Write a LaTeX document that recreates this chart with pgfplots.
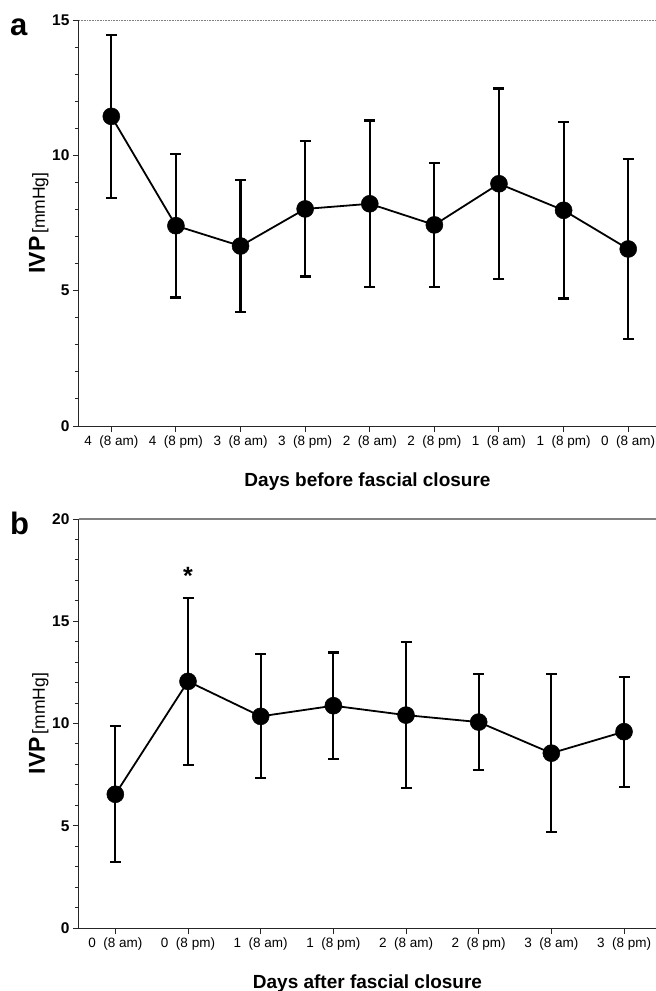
\documentclass[border=0pt]{standalone}
\usepackage{pgfplots}
\pgfplotsset{compat=1.18}
\usepackage{pgfplotstable}
\usepackage{fontspec}
\setmainfont{Liberation Sans}

% IVP before closure: mean, SD
\pgfplotstableread{
x y e
0 11.44 3.02
1 7.40 2.65
2 6.65 2.43
3 8.02 2.50
4 8.21 3.08
5 7.43 2.30
6 8.95 3.52
7 7.97 3.26
8 6.54 3.33
}\before

% IVP after closure
\pgfplotstableread{
x y e
0 6.54 3.33
1 12.06 4.07
2 10.35 3.03
3 10.87 2.60
4 10.41 3.58
5 10.07 2.34
6 8.55 3.87
7 9.60 2.69
}\after

\pgfplotsset{
  ivp/.style={
    scale only axis, width=577pt,
    axis x line*=bottom, axis y line*=left,
    axis line style={black!85, line width=1pt},
    tick align=outside,
    tick style={black!85, line width=1pt},
    major tick length=6pt, minor tick length=3.5pt,
    xmin=-0.5, ymin=0,
    minor y tick num=4,
    yticklabel style={font=\fontsize{15.5}{15.5}\selectfont\bfseries},
    xticklabel style={font=\fontsize{13.5}{13.5}\selectfont},
    ylabel={{\fontsize{23}{23}\selectfont\bfseries IVP} {\fontsize{17.5}{17.5}\selectfont [mmHg]}},
    every axis y label/.style={at={(axis description cs:-0.059,0.5)}, rotate=90, anchor=base},
    every axis x label/.style={at={(axis description cs:0.5,0)}, anchor=base, yshift=-60pt,
      font=\fontsize{19}{19}\selectfont\bfseries},
    clip=false,
  },
  meanline/.style={
    black, line width=1.8pt, mark=*, mark size=8.5pt, mark options={fill=black, line width=0.5pt},
    error bars/.cd, y dir=both, y explicit,
    error bar style={line width=2.2pt},
    error mark options={rotate=90, mark size=5.5pt, line width=2.2pt},
  },
}

\begin{document}
\begin{tikzpicture}
\useasboundingbox (0,0) rectangle (656pt,-991pt);

\node[anchor=base west, font=\fontsize{31}{31}\selectfont\bfseries, inner sep=0pt] at (10pt,-35pt) {a};
\node[anchor=base west, font=\fontsize{31}{31}\selectfont\bfseries, inner sep=0pt] at (10pt,-534pt) {b};

\begin{axis}[ivp,
  at={(79pt,-20pt)}, anchor=north west, height=406pt,
  xmax=8.43, ymax=15,
  xtick={0,...,8},
  xticklabels={4\ \ (8 am), 4\ \ (8 pm), 3\ \ (8 am), 3\ \ (8 pm), 2\ \ (8 am), 2\ \ (8 pm), 1\ \ (8 am), 1\ \ (8 pm), 0\ \ (8 am)},
  ytick={0,5,10,15}, yticklabels={0,5,10,15},
  xlabel={Days before fascial closure},
]
\draw[gray, line width=0.6pt, densely dotted] (rel axis cs:0,1) -- (rel axis cs:1,1);
\addplot[meanline] table[x=x, y=y, y error=e] {\before};
\end{axis}

\begin{axis}[ivp,
  at={(79pt,-519pt)}, anchor=north west, height=409pt,
  xmax=7.44, ymax=20,
  xtick={0,...,7},
  xticklabels={0\ \ (8 am), 0\ \ (8 pm), 1\ \ (8 am), 1\ \ (8 pm), 2\ \ (8 am), 2\ \ (8 pm), 3\ \ (8 am), 3\ \ (8 pm)},
  ytick={0,5,10,15,20}, yticklabels={0,5,10,15,20},
  xlabel={Days after fascial closure},
]
\draw[gray, line width=1.3pt] (rel axis cs:0,1) -- (rel axis cs:1,1);
\addplot[meanline] table[x=x, y=y, y error=e] {\after};
\node[anchor=base, font=\fontsize{25}{25}\selectfont\bfseries, inner sep=0pt] at (axis cs:1,16.8) {*};
\end{axis}
\end{tikzpicture}
\end{document}
